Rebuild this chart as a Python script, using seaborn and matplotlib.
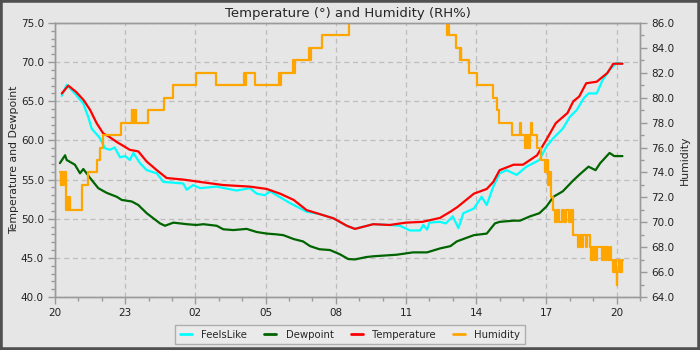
import numpy as np
import pandas as pd
import matplotlib
matplotlib.use("Agg")
import matplotlib.pyplot as plt
from matplotlib.patches import Rectangle
from matplotlib.lines import Line2D
import seaborn as sns

# ---------------- data (hours since 20:00) ----------------
tick_hours = [0, 3, 6, 9, 12, 15, 18, 21, 24]
tick_labels = ["20", "23", "02", "05", "08", "11", "14", "17", "20"]

temp_t = [0.29, 0.57, 0.9, 1.21, 1.5, 1.78, 2.06, 2.3, 2.64, 3.2, 3.56, 3.92, 4.35, 4.77,
          5.48, 6.2, 7.19, 8.33, 9.05, 9.62, 10.2, 10.75, 11.3, 11.9, 12.47, 12.82, 13.6,
          14.3, 15.0, 15.7, 16.45, 16.9, 17.2, 17.9, 18.45, 18.73, 19.0, 19.6, 20.0, 20.6,
          21.0, 21.4, 21.9, 22.15, 22.4, 22.7, 23.15, 23.6, 23.86, 24.25]
temp_v = [66.0, 67.0, 66.2, 65.2, 63.9, 62.2, 60.9, 60.5, 59.8, 58.8, 58.6, 57.3, 56.2, 55.2,
          55.0, 54.7, 54.3, 54.1, 53.8, 53.2, 52.4, 51.1, 50.6, 50.05, 49.1, 48.7, 49.3,
          49.2, 49.5, 49.6, 50.1, 50.9, 51.5, 53.2, 53.8, 54.7, 56.2, 56.9, 56.9, 58.1,
          60.1, 62.2, 63.5, 65.0, 65.6, 67.3, 67.5, 68.6, 69.8, 69.8]

feels_t = [0.29, 0.5, 0.85, 1.21, 1.42, 1.57, 1.92, 2.14, 2.35, 2.55, 2.78, 3.0, 3.2, 3.35,
           3.63, 3.92, 4.35, 4.63, 5.48, 5.63, 5.91, 6.2, 6.9, 7.76, 8.33, 8.62, 8.97, 9.19,
           10.04, 10.75, 11.3, 11.9, 12.47, 12.82, 13.6, 14.3, 14.74, 15.17, 15.6, 15.74,
           15.9, 16.0, 16.45, 16.7, 17.0, 17.24, 17.45, 17.9, 18.23, 18.45, 18.73, 19.0,
           19.3, 19.73, 20.15, 20.7, 21.0, 21.3, 21.7, 22.0, 22.3, 22.6, 22.8, 23.15, 23.4,
           23.7, 24.0, 24.25]
feels_v = [65.7, 67.1, 66.0, 64.7, 63.0, 61.5, 60.3, 59.0, 58.8, 59.1, 57.85, 58.0, 57.5, 58.4,
           57.1, 56.2, 55.8, 54.7, 54.5, 53.7, 54.3, 53.9, 54.1, 53.6, 53.9, 53.2, 53.0, 53.5,
           52.0, 50.9, 50.6, 50.05, 49.1, 48.7, 49.3, 49.2, 49.1, 48.5, 48.5, 49.2,
           48.6, 49.5, 49.6, 49.4, 50.3, 48.8, 50.7, 51.3, 52.8, 51.75, 54.1, 55.8,
           56.2, 55.6, 56.65, 57.5, 59.2, 60.3, 61.5, 63.0, 63.9, 65.4, 66.0, 66.0, 67.7,
           69.0, 69.9, 69.8]

dew_t = [0.21, 0.43, 0.5, 0.85, 1.07, 1.21, 1.5, 1.85, 2.21, 2.64, 2.85, 3.28, 3.56, 3.92,
         4.49, 4.7, 5.06, 5.63, 6.05, 6.34, 6.91, 7.19, 7.62, 8.19, 8.62, 9.05, 9.47, 9.76,
         10.2, 10.6, 10.9, 11.3, 11.75, 12.18, 12.53, 12.82, 13.3, 13.6, 14.6, 15.3, 15.9,
         16.45, 16.9, 17.17, 17.9, 18.45, 18.8, 19.0, 19.6, 19.87, 20.3, 20.7, 21.0, 21.3,
         21.7, 22.15, 22.4, 22.8, 23.1, 23.3, 23.7, 23.9, 24.25]
dew_v = [57.1, 58.1, 57.5, 56.9, 55.8, 56.35, 55.2, 53.9, 53.3, 52.8, 52.4, 52.2, 51.75, 50.7,
         49.4, 49.1, 49.5, 49.3, 49.2, 49.3, 49.1, 48.65, 48.55, 48.7, 48.3, 48.1, 48.0, 47.9,
         47.4, 47.1, 46.5, 46.1, 46.0, 45.45, 44.85, 44.8, 45.1, 45.2, 45.4, 45.7, 45.7,
         46.2, 46.5, 47.1, 47.9, 48.1, 49.4, 49.6, 49.75, 49.75, 50.3, 50.7, 51.55, 52.8,
         53.5, 54.9, 55.6, 56.65, 56.2, 57.1, 58.4, 58.0, 58.0]

hum_t = [0.20, 0.24, 0.27, 0.30, 0.33, 0.36, 0.40, 0.45, 0.50, 0.56, 0.60, 0.64, 1.17, 1.42,
         1.78, 1.92, 2.06, 2.81, 3.28, 3.31, 3.34, 3.38, 3.41, 3.45, 3.96, 4.67, 5.03, 6.03,
         6.87, 8.09, 8.13, 8.17, 8.55, 9.59, 9.63, 9.67, 10.16, 10.2, 10.25, 10.87, 10.9,
         10.95, 11.4, 12.55, 16.72, 16.76, 16.8, 16.84, 17.14, 17.3, 17.33, 17.37, 17.7,
         18.05, 18.7, 18.9, 18.98, 19.52, 19.87, 19.93, 20.1, 20.13, 20.17, 20.2, 20.25,
         20.3, 20.35, 20.38, 20.6, 20.77, 20.95, 21.0, 21.05, 21.1, 21.2, 21.3, 21.35,
         21.45, 21.55, 21.65, 21.75, 21.85, 21.95, 22.05, 22.15, 22.37, 22.42, 22.5, 22.55,
         22.7, 22.75, 22.86, 22.9, 22.95, 23.0, 23.05, 23.1, 23.15, 23.36, 23.42, 23.5,
         23.55, 23.62, 23.7, 23.78, 23.86, 23.92, 23.97, 24.0, 24.03, 24.1, 24.15, 24.22,
         24.26]
hum_v = [74, 73, 74, 73, 74, 73, 74, 71, 72, 71, 72, 71, 73, 74,
         75, 76, 77, 78, 79, 78, 79, 78, 79, 78, 79, 80, 81, 82,
         81, 82, 81, 82, 81, 82, 81, 82, 83, 82, 83, 84, 83,
         84, 85, 87, 86, 85, 86, 85, 84, 83, 84, 83, 82,
         81, 80, 79, 78, 77, 78, 77, 76, 77, 76, 77, 76,
         77, 78, 77, 76, 75, 74, 75, 73, 74, 72, 71, 70,
         71, 70, 71, 70, 71, 70, 71, 69, 68, 69, 68, 69,
         68, 69, 68, 67, 68, 67, 68, 67, 68, 67, 68, 67,
         68, 67, 68, 67, 66, 67, 66, 65, 66, 67, 66, 67,
         67]

# ---------------- style ----------------
BG = "#e6e6e6"
sns.set_style("ticks")
plt.rcParams["font.family"] = ["DejaVu Sans"]
plt.rcParams["axes.edgecolor"] = "#9a9a9a"
plt.rcParams["xtick.color"] = "#9a9a9a"
plt.rcParams["ytick.color"] = "#9a9a9a"
plt.rcParams["xtick.labelcolor"] = "#222222"
plt.rcParams["ytick.labelcolor"] = "#222222"

fig = plt.figure(figsize=(7, 3.5), dpi=100, facecolor=BG)
ax = fig.add_axes([55 / 700, 1 - 297 / 350, 585 / 700, 274 / 350])
ax.set_facecolor(BG)
ax2 = ax.twinx()

df_f = pd.DataFrame({"t": feels_t, "v": feels_v})
df_d = pd.DataFrame({"t": dew_t, "v": dew_v})
df_t = pd.DataFrame({"t": temp_t, "v": temp_v})
df_h = pd.DataFrame({"t": hum_t, "v": hum_v})

lw = 1.6
sns.lineplot(data=df_f, x="t", y="v", ax=ax, color="#00ffff", lw=lw, estimator=None, sort=False)
sns.lineplot(data=df_d, x="t", y="v", ax=ax, color="#006400", lw=lw, estimator=None, sort=False)
sns.lineplot(data=df_t, x="t", y="v", ax=ax, color="#ff0000", lw=lw, estimator=None, sort=False)
sns.lineplot(data=df_h, x="t", y="v", ax=ax2, color="#ffa500", lw=lw, estimator=None, sort=False,
             drawstyle="steps-post")

ax.set_xlim(0, 25)
ax.set_ylim(40, 75)
ax2.set_ylim(64, 86)

ax.set_xticks(tick_hours)
ax.set_xticklabels(tick_labels)
ax.set_xticks(np.arange(0, 26, 1), minor=True)
ax.set_yticks(np.arange(40, 76, 5))
ax.set_yticklabels([f"{v:.1f}" for v in np.arange(40, 76, 5)])
ax.set_yticks(np.arange(40, 76, 1), minor=True)
ax2.set_yticks(np.arange(64, 87, 2))
ax2.set_yticklabels([f"{v:.1f}" for v in np.arange(64, 87, 2)])
ax2.set_yticks(np.arange(64, 87, 1), minor=True)

for a in (ax, ax2):
    a.tick_params(which="major", length=5, width=1, labelsize=7.5, pad=3)
    a.tick_params(which="minor", length=3, width=1)
    for s in a.spines.values():
        s.set_color("#9a9a9a")
        s.set_linewidth(1)

ax.grid(True, which="major", color="#bdbdbd", linestyle=(0, (4, 3)), linewidth=0.9)
ax2.grid(False)
ax.set_xlabel("")
ax.set_ylabel("Temperature and Dewpoint", fontsize=7.8, labelpad=1)
ax2.set_ylabel("Humidity", fontsize=7.8, labelpad=4)

ax.set_title("Temperature (°) and Humidity (RH%)", fontsize=9.5, pad=4)

handles = [Line2D([], [], color="#00ffff", lw=2),
           Line2D([], [], color="#006400", lw=2),
           Line2D([], [], color="#ff0000", lw=2),
           Line2D([], [], color="#ffa500", lw=2)]
labels = ["FeelsLike", "Dewpoint", "Temperature", "Humidity"]
leg = fig.legend(handles, labels, loc="upper center", bbox_to_anchor=(0.5, 1 - 325 / 350),
                 ncol=4, fontsize=7.3, frameon=True, fancybox=False, handlelength=1.2,
                 columnspacing=1.7, handletextpad=0.9, borderpad=0.45, borderaxespad=0)
leg.get_frame().set_facecolor("#ececec")
leg.get_frame().set_edgecolor("#a0a0a0")
leg.get_frame().set_linewidth(1)

fig.patches.append(Rectangle((0, 0), 1, 1, transform=fig.transFigure, fill=False,
                             edgecolor="#505050", linewidth=4, zorder=100))

fig.savefig("out.png", dpi=100, facecolor=BG)
